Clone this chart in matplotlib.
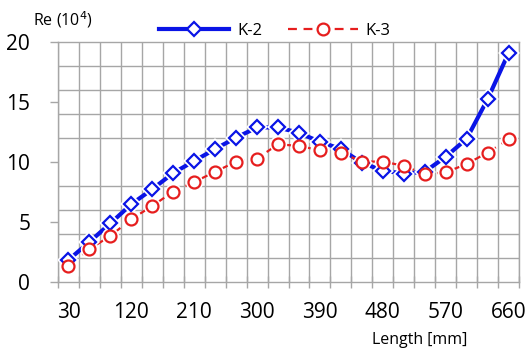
"""
Re 분포 — K-2 / K-3 길이별 레이놀즈수 (Excel 스타일 카테고리 축 재현)
"""
import numpy as np
import matplotlib
matplotlib.use("Agg")
import matplotlib.pyplot as plt

plt.rcParams["font.family"] = ["Open Sans", "DejaVu Sans"]

# ---------- data (10^4) ----------
lengths = [30, 60, 90, 120, 150, 180, 210, 240, 270, 300, 330,
           360, 390, 420, 450, 480, 510, 540, 570, 600, 630, 660]
k2 = [1.8, 3.3, 4.85, 6.45, 7.7, 9.05, 10.05, 11.05, 12.0, 12.85, 12.85,
      12.4, 11.65, 11.05, 9.9, 9.25, 9.0, 9.15, 10.4, 11.9, 15.2, 19.05]
k3 = [1.3, 2.7, 3.8, 5.2, 6.3, 7.5, 8.3, 9.15, 10.0, 10.25, 11.45,
      11.3, 10.95, 10.75, 10.0, 10.0, 9.65, 8.95, 9.1, 9.8, 10.75, 11.85]
label_every = 3

W, H = 527, 349
fig = plt.figure(figsize=(W / 100, H / 100), dpi=100)
ax = fig.add_axes([58 / W, 1 - 281.5 / H, (519 - 58) / W, (281.5 - 41.7) / H])

x = np.arange(len(lengths))
grid_c = "#a6a6a6"
blue, red = "#0a14e6", "#e61e1e"

# 선 + 마커 (마커 주위 흰 여백으로 끊김 표현)
ax.plot(x, k2, color=blue, lw=3, zorder=3)
ax.plot(x, k2, ls="none", marker="D", ms=8.5, mfc="white", mec="white", mew=3, zorder=4)
ax.plot(x, k2, ls="none", marker="D", ms=7.2, mfc="white", mec=blue, mew=1.6, zorder=5)
ax.plot(x, k3, color=red, lw=1.6, ls=(0, (5, 3)), zorder=3)
ax.plot(x, k3, ls="none", marker="o", ms=10, mfc="white", mec="white", mew=2.5, zorder=4)
ax.plot(x, k3, ls="none", marker="o", ms=8.6, mfc="white", mec=red, mew=1.6, zorder=5)

ax.set_xlim(-0.5, len(lengths) - 0.5)
ax.set_ylim(0, 20)

# x: 라벨은 카테고리 중앙, 눈금/격자는 카테고리 경계
ax.set_xticks(x[::label_every])
ax.set_xticklabels([str(v) for v in lengths[::label_every]], fontsize=15)
ax.set_xticks(np.arange(-0.5, len(lengths)), minor=True)
ax.tick_params(axis="x", which="major", length=0, pad=15)
ax.tick_params(axis="x", which="minor", direction="inout", length=9, width=1, color=grid_c)
ax.grid(axis="x", which="minor", color=grid_c, lw=1)

# y: 라벨 5 단위, 격자 2 단위
ax.set_yticks([0, 5, 10, 15, 20])
ax.set_yticklabels(["0", "5", "10", "15", "20"], fontsize=15)
ax.set_yticks(np.arange(0, 21, 2), minor=True)
ax.tick_params(axis="y", which="major", direction="out", length=6, width=1, color=grid_c, pad=14)
ax.tick_params(axis="y", which="minor", length=0)
ax.grid(axis="y", which="minor", color=grid_c, lw=1)

for s in ax.spines.values():
    s.set_color(grid_c)
    s.set_linewidth(1)

ax.set_axisbelow(True)

# 축 제목
fig.text(33 / W, 1 - 20 / H, r"Re (10$^4$)", fontsize=11.5, va="center", ha="left")
fig.text(372 / W, 1 - 340 / H, "Length [mm]", fontsize=11.5, va="center", ha="left")

# 범례 (상단)
leg = ax.legend(
    [plt.Line2D([], [], color=blue, lw=3, marker="D", ms=7, mfc="white", mec=blue, mew=1.6),
     plt.Line2D([], [], color=red, lw=1.6, ls=(0, (4, 3)), marker="o", ms=8.5, mfc="white", mec=red, mew=1.6)],
    ["K-2", "K-3"], ncol=2, frameon=False, fontsize=12,
    loc="center", bbox_to_anchor=((275 - 58) / (519 - 58), 1 + (41.7 - 31) / (281.5 - 41.7)),
    handlelength=4.2, columnspacing=1.5, handletextpad=0.5, borderaxespad=0)

fig.savefig("out.png", dpi=100)
